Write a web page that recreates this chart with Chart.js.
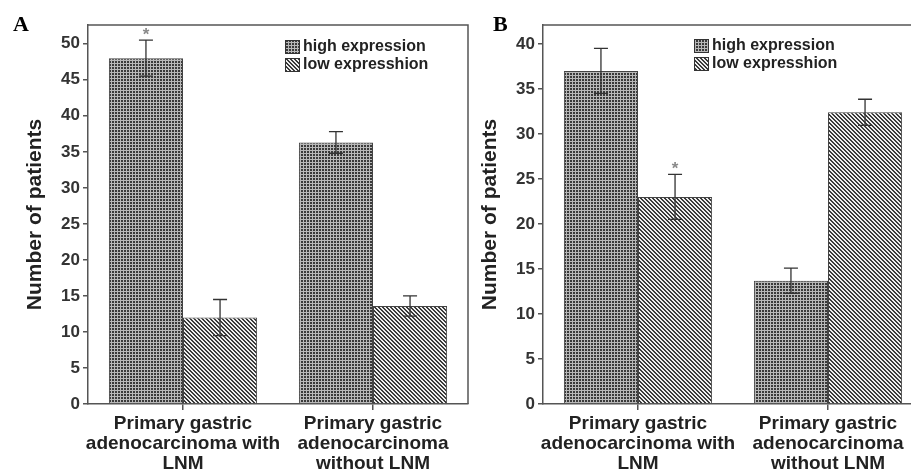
<!DOCTYPE html>
<html>
<head>
<meta charset="utf-8">
<script src="https://cdn.jsdelivr.net/npm/chart.js@4.4.1/dist/chart.umd.min.js"></script>
<style>
  body { margin: 0; background: #fff; overflow: hidden; width: 911px; height: 473px; position: relative; }
  .wrap { position: absolute; top: 0; width: 470px; height: 473px; }
</style>
</head>
<body>
<div class="wrap" style="left:0"><canvas id="chartA" width="470" height="473"></canvas></div>
<div class="wrap" style="left:455px"><canvas id="chartB" width="470" height="473"></canvas></div>
<script>
// categories and series
const categories = [
  ["Primary gastric", "adenocarcinoma with", "LNM"],
  ["Primary gastric", "adenocarcinoma", "without LNM"]
]
const seriesNames = ["high expression", "low expresshion"]

// panel A
const highA = [48, 36.3]
const lowA = [12, 13.6]
const highErrA = [2.5, 1.5]
const lowErrA = [2.5, 1.4]
const starsHighA = [true, false]
const starsLowA = [false, false]
const yTicksA = [0, 5, 10, 15, 20, 25, 30, 35, 40, 45, 50]
const yMaxA = 52.6

// panel B
const highB = [37, 13.7]
const lowB = [23, 32.4]
const highErrB = [2.5, 1.4]
const lowErrB = [2.5, 1.45]
const starsHighB = [false, false]
const starsLowB = [true, false]
const yTicksB = [0, 5, 10, 15, 20, 25, 30, 35, 40]
const yMaxB = 42.1

const FONT = "'Liberation Sans', Arial, sans-serif"

function gridPattern() {
  let c = document.createElement('canvas')
  c.width = 3; c.height = 3
  let g = c.getContext('2d')
  g.fillStyle = '#b8b8b8'
  g.fillRect(0, 0, 3, 3)
  g.fillStyle = '#3a3a3a'
  g.fillRect(1, 1, 2, 2)
  return g.createPattern(c, 'repeat')
}

function hatchPattern() {
  let c = document.createElement('canvas')
  c.width = 4; c.height = 4
  let g = c.getContext('2d')
  g.fillStyle = '#eeeeee'
  g.fillRect(0, 0, 4, 4)
  g.fillStyle = '#3a3a3a'
  for (let i = 0; i < 4; i++) {
    g.fillRect(i, i, 1, 1)
    g.fillRect(i, (i + 1) % 4, 1, 1)
  }
  return g.createPattern(c, 'repeat')
}

const extras = {
  id: 'extras',
  afterDatasetsDraw(chart, args, opts) {
    const ctx = chart.ctx
    const area = chart.chartArea
    const y = chart.scales.y
    ctx.save()
    // frame top + right
    ctx.strokeStyle = '#555'
    ctx.lineWidth = 1.5
    ctx.beginPath()
    ctx.moveTo(area.left, area.top)
    ctx.lineTo(area.right, area.top)
    ctx.lineTo(area.right, area.bottom)
    ctx.stroke()

    // error bars + stars
    chart.data.datasets.forEach((ds, i) => {
      let meta = chart.getDatasetMeta(i)
      meta.data.forEach((bar, j) => {
        let v = ds.data[j], e = ds.errors[j]
        let top = y.getPixelForValue(v + e)
        let bot = y.getPixelForValue(v - e)
        ctx.strokeStyle = '#333'
        ctx.lineWidth = 1.3
        ctx.beginPath()
        ctx.moveTo(bar.x, top); ctx.lineTo(bar.x, bot)
        ctx.moveTo(bar.x - 7, top); ctx.lineTo(bar.x + 7, top)
        ctx.moveTo(bar.x - 7, bot); ctx.lineTo(bar.x + 7, bot)
        ctx.stroke()
        if (ds.stars[j]) {
          ctx.fillStyle = '#8a8a8a'
          ctx.font = 'bold 17px ' + FONT
          ctx.textAlign = 'center'
          ctx.textBaseline = 'middle'
          ctx.fillText('*', bar.x, top - 5)
        }
      })
    })

    // legend
    chart.data.datasets.forEach((ds, i) => {
      let lx = opts.legendX, ly = opts.legendY + i * 18
      ctx.fillStyle = ds.backgroundColor
      ctx.fillRect(lx, ly, 15, 14)
      ctx.strokeStyle = '#333'
      ctx.lineWidth = 1
      ctx.strokeRect(lx + 0.5, ly + 0.5, 14, 13)
      ctx.fillStyle = '#222'
      ctx.font = 'bold 16px ' + FONT
      ctx.textAlign = 'left'
      ctx.textBaseline = 'middle'
      ctx.fillText(ds.label, lx + 18, ly + 7)
    })

    // panel letter
    ctx.fillStyle = '#000'
    ctx.font = "bold 22px 'Liberation Serif', 'Times New Roman', serif"
    ctx.textAlign = 'left'
    ctx.textBaseline = 'alphabetic'
    ctx.fillText(opts.letter, opts.letterX, 31)
    ctx.restore()
  }
}

function makeChart(id, high, low, highErr, lowErr, starsHigh, starsLow, yTicks, yMax, letter, letterX, legendX, legendY) {
  return new Chart(document.getElementById(id), {
    type: 'bar',
    data: {
      labels: categories,
      datasets: [
        { label: seriesNames[0], data: high, errors: highErr, stars: starsHigh,
          backgroundColor: gridPattern(), borderColor: '#444', borderWidth: 1 },
        { label: seriesNames[1], data: low, errors: lowErr, stars: starsLow,
          backgroundColor: hatchPattern(), borderColor: '#444', borderWidth: 1 }
      ]
    },
    options: {
      responsive: false,
      animation: false,
      events: [],
      layout: { padding: { top: 25, right: 2, left: 0, bottom: 0 } },
      datasets: { bar: { barPercentage: 1, categoryPercentage: 0.78 } },
      plugins: {
        legend: { display: false },
        tooltip: { enabled: false },
        extras: { letter: letter, letterX: letterX, legendX: legendX, legendY: legendY }
      },
      scales: {
        x: {
          offset: true,
          grid: { display: true, drawOnChartArea: false, offset: false, tickLength: 6, color: '#555', lineWidth: 1.5 },
          border: { color: '#555', width: 1.5 },
          ticks: { color: '#222', padding: 4, maxRotation: 0, autoSkip: false,
                   font: { family: FONT, size: 19, weight: 'bold', lineHeight: 1.05 } },
          afterFit: s => { s.height = 69 }
        },
        y: {
          min: 0,
          max: yMax,
          afterBuildTicks: s => { s.ticks = yTicks.map(v => ({ value: v })) },
          afterFit: s => { s.width = 88 },
          grid: { display: true, drawOnChartArea: false, tickLength: 5, color: '#555', lineWidth: 1.5 },
          border: { color: '#555', width: 1.5 },
          ticks: { color: '#333', padding: 3, font: { family: FONT, size: 17, weight: 'bold' } },
          title: { display: true, text: 'Number of patients', color: '#222',
                   padding: { top: 23, bottom: 0 },
                   font: { family: FONT, size: 21, weight: 'bold' } }
        }
      }
    },
    plugins: [extras]
  })
}

makeChart('chartA', highA, lowA, highErrA, lowErrA, starsHighA, starsLowA, yTicksA, yMaxA, 'A', 13, 285, 40)
makeChart('chartB', highB, lowB, highErrB, lowErrB, starsHighB, starsLowB, yTicksB, yMaxB, 'B', 38, 239, 39)
</script>
</body>
</html>
